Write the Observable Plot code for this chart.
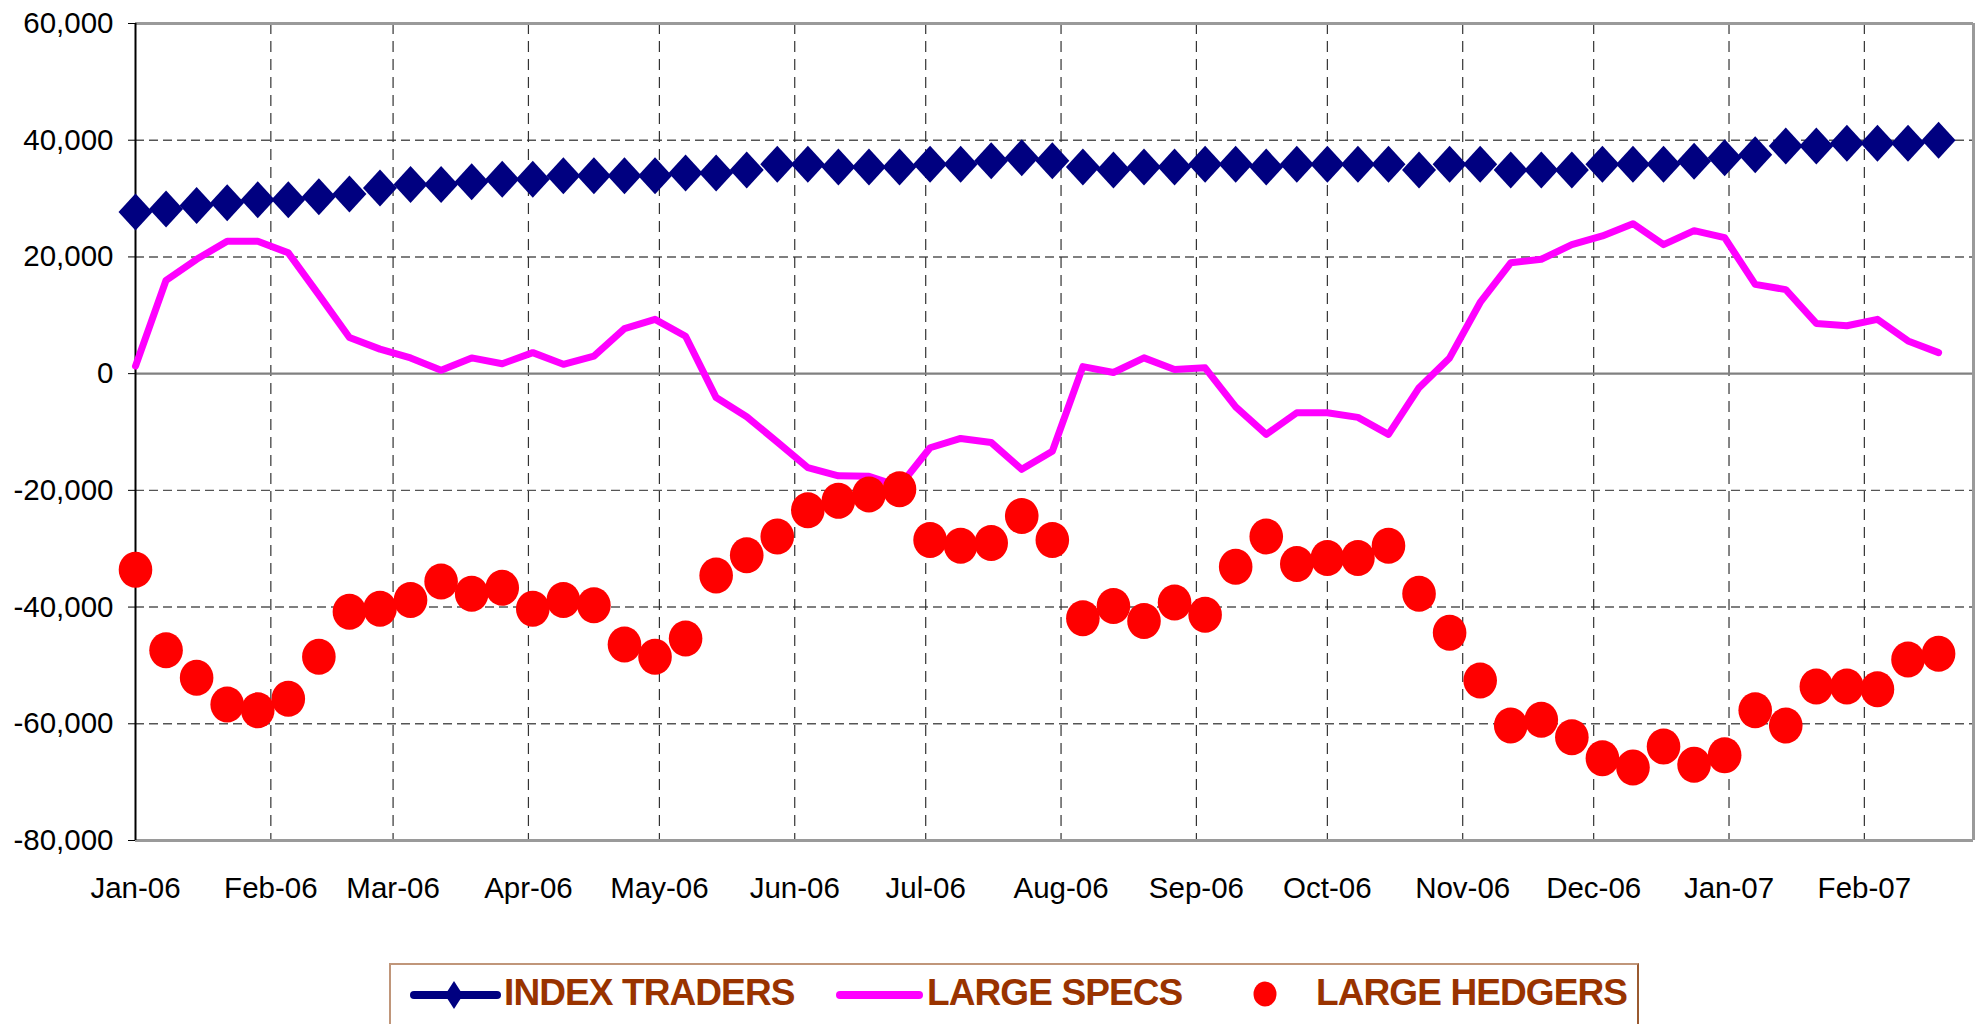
<!DOCTYPE html>
<html>
<head>
<meta charset="utf-8">
<script src="https://cdn.jsdelivr.net/npm/d3@7"></script>
<script src="https://cdn.jsdelivr.net/npm/@observablehq/plot@0.6"></script>
<style>
  html, body { margin: 0; padding: 0; background: #fff; overflow: hidden; }
  #wrap { position: relative; width: 1982px; height: 1024px; }
  #legend { position: absolute; left: 389px; top: 963px; width: 1250px; height: 80px;
            border: 2px solid #c0967a; border-right-color: #9a5a30; box-sizing: border-box; }
  #legend .item { position: absolute; top: 0; height: 60px; }
  #legend .lbl { position: absolute; top: 7px; font-family: "Liberation Sans", Arial, sans-serif;
                 font-weight: bold; font-size: 37px; letter-spacing: -0.9px; color: #993300; white-space: nowrap; }
  #legend svg { position: absolute; top: 0; left: 0; overflow: visible; }
</style>
</head>
<body>
<div id="wrap"></div>
<script>
// ---- data (weekly) ----
const dates = [
  "2006-01-03","2006-01-10","2006-01-17","2006-01-24","2006-01-31",
  "2006-02-07","2006-02-14","2006-02-21","2006-02-28",
  "2006-03-07","2006-03-14","2006-03-21","2006-03-28",
  "2006-04-04","2006-04-11","2006-04-18","2006-04-25",
  "2006-05-02","2006-05-09","2006-05-16","2006-05-23","2006-05-30",
  "2006-06-06","2006-06-13","2006-06-20","2006-06-27",
  "2006-07-04","2006-07-11","2006-07-18","2006-07-25",
  "2006-08-01","2006-08-08","2006-08-15","2006-08-22","2006-08-29",
  "2006-09-05","2006-09-12","2006-09-19","2006-09-26",
  "2006-10-03","2006-10-10","2006-10-17","2006-10-24","2006-10-31",
  "2006-11-07","2006-11-14","2006-11-21","2006-11-28",
  "2006-12-05","2006-12-12","2006-12-19","2006-12-26",
  "2007-01-02","2007-01-09","2007-01-16","2007-01-23","2007-01-30",
  "2007-02-06","2007-02-13","2007-02-20"
];
const indexTraders = [
  27700,28200,28800,29300,29800,29800,30300,30800,31800,32400,
  32400,32900,33300,33300,33900,33900,33900,33900,34400,34400,
  34900,35900,35900,35400,35400,35400,35900,35900,36500,37000,
  36500,35400,34900,35400,35400,35900,35900,35400,35900,35900,
  35900,35900,34900,35900,35900,34900,34900,34900,35900,35900,
  35900,36400,37000,37500,39000,39000,39500,39500,39500,40000
];
const largeSpecs = [
  1300,16000,19600,22700,22700,20700,13500,6200,4200,2700,
  600,2700,1700,3600,1600,3000,7700,9300,6400,-4100,
  -7400,-11700,-16100,-17500,-17600,-19300,-12700,-11100,-11800,-16400,
  -13300,1200,200,2700,700,1000,-5700,-10400,-6700,-6700,
  -7500,-10400,-2400,2700,12200,19000,19600,22100,23600,25700,
  22100,24500,23300,15300,14400,8600,8200,9300,5600,3600
];
const largeHedgers = [
  -33600,-47400,-52100,-56700,-57700,-55700,-48500,-40800,-40300,-38800,
  -35600,-37700,-36700,-40300,-38800,-39700,-46400,-48500,-45400,-34600,
  -31100,-27900,-23400,-21800,-20700,-19800,-28500,-29500,-29000,-24400,
  -28500,-41900,-39800,-42400,-39200,-41300,-33100,-27900,-32600,-31600,
  -31600,-29500,-37700,-44400,-52600,-60300,-59300,-62300,-65900,-67500,
  -63900,-67000,-65400,-57700,-60300,-53600,-53600,-54100,-49000,-48000
];
const yTicks = [-80000,-60000,-40000,-20000,0,20000,40000,60000];
const monthTicks = [
  "2006-01-03","2006-02-03","2006-03-03","2006-04-03","2006-05-03","2006-06-03","2006-07-03",
  "2006-08-03","2006-09-03","2006-10-03","2006-11-03","2006-12-03","2007-01-03","2007-02-03"
];
const xDomain = ["2006-01-03","2007-02-28"];
const seriesNames = ["INDEX TRADERS","LARGE SPECS","LARGE HEDGERS"];

// ---- build ----
const parse = s => new Date(s + "T00:00:00Z");
const rows = dates.map((d, i) => ({
  date: parse(d), index: indexTraders[i], specs: largeSpecs[i], hedgers: largeHedgers[i]
}));
const ticksX = monthTicks.map(parse);
const domX = xDomain.map(parse);
const fmtY = d => (d < 0 ? "-" : "") + d3.format(",")(Math.abs(d));
const fmtX = d3.utcFormat("%b-%y");

const diamond = {
  draw(ctx) { const hw = 17, hh = 18.5;
    ctx.moveTo(0, -hh); ctx.lineTo(hw, 0); ctx.lineTo(0, hh); ctx.lineTo(-hw, 0); ctx.closePath(); }
};
const ellipse = {
  draw(ctx) { const rx = 16.8, ry = 18, k = 0.5523;
    ctx.moveTo(rx, 0);
    ctx.bezierCurveTo(rx, k*ry, k*rx, ry, 0, ry);
    ctx.bezierCurveTo(-k*rx, ry, -rx, k*ry, -rx, 0);
    ctx.bezierCurveTo(-rx, -k*ry, -k*rx, -ry, 0, -ry);
    ctx.bezierCurveTo(k*rx, -ry, rx, -k*ry, rx, 0);
    ctx.closePath(); }
};

const chart = Plot.plot({
  width: 1982, height: 940,
  marginLeft: 135, marginRight: 9, marginTop: 23, marginBottom: 100,
  x: { type: "utc", domain: domX },
  y: { domain: [yTicks[0], yTicks[yTicks.length - 1]] },
  style: { fontFamily: "'Liberation Sans', Arial, sans-serif", fontSize: "29.5px", color: "#000", background: "#fff", overflow: "visible" },
  marks: [
    Plot.ruleY(yTicks.filter(v => v !== 0 && v !== yTicks[0] && v !== yTicks[yTicks.length-1]),
      { stroke: "#555", strokeWidth: 1.4, strokeDasharray: "9,5" }),
    Plot.ruleX(ticksX.slice(1), { stroke: "#333", strokeWidth: 1.2, strokeDasharray: "11,7" }),
    Plot.ruleY([0], { stroke: "#808080", strokeWidth: 2.2 }),
    Plot.ruleY([yTicks[yTicks.length-1], yTicks[0]], { stroke: "#9a9a9a", strokeWidth: 3 }),
    Plot.ruleX([domX[1]], { stroke: "#9a9a9a", strokeWidth: 3 }),
    Plot.ruleX([domX[0]], { stroke: "#000", strokeWidth: 2 }),
    Plot.axisY({ ticks: yTicks, tickSize: 7, tickPadding: 15, tickFormat: fmtY, stroke: "#000" }),
    Plot.axisX({ ticks: ticksX, tickSize: 0, tickPadding: 37, tickFormat: fmtX }),
    Plot.line(rows, { x: "date", y: "specs", stroke: "#ff00ff", strokeWidth: 7,
      strokeLinejoin: "round", strokeLinecap: "round" }),
    Plot.dot(rows, { x: "date", y: "hedgers", symbol: ellipse, fill: "#ff0000", stroke: "none" }),
    Plot.dot(rows, { x: "date", y: "index", symbol: diamond, fill: "#000080", stroke: "none" })
  ]
});

const wrap = document.getElementById("wrap");
wrap.appendChild(chart);

// ---- legend ----
const legend = document.createElement("div");
legend.id = "legend";
legend.innerHTML = `
  <div class="item" style="left:0">
    <svg width="120" height="70">
      <line x1="23" y1="30" x2="106" y2="30" stroke="#000080" stroke-width="8" stroke-linecap="round"/>
      <path d="M63,16 L72,30 L63,44 L54,30 Z" fill="#000080"/>
    </svg>
    <span class="lbl" style="left:113px">${seriesNames[0]}</span>
  </div>
  <div class="item" style="left:0">
    <svg width="600" height="70">
      <line x1="449" y1="30" x2="528" y2="30" stroke="#ff00ff" stroke-width="8" stroke-linecap="round"/>
    </svg>
    <span class="lbl" style="left:536px">${seriesNames[1]}</span>
  </div>
  <div class="item" style="left:0">
    <svg width="900" height="70">
      <ellipse cx="874" cy="29" rx="11.5" ry="12.5" fill="#ff0000"/>
    </svg>
    <span class="lbl" style="left:925px">${seriesNames[2]}</span>
  </div>`;
wrap.appendChild(legend);
</script>
</body>
</html>
